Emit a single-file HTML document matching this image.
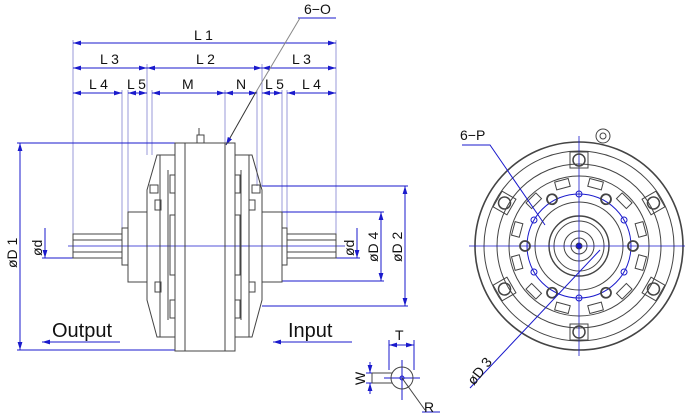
<!DOCTYPE html>
<html><head><meta charset="utf-8"><style>
html,body{margin:0;padding:0;background:#fff;width:685px;height:415px;overflow:hidden}
svg{display:block}
text{font-family:"Liberation Sans",sans-serif}
</style></head><body>
<svg width="685" height="415" viewBox="0 0 685 415" xmlns="http://www.w3.org/2000/svg">
<defs>
<marker id="a" viewBox="0 0 10 6" refX="10" refY="3" markerWidth="8" markerHeight="5" orient="auto-start-reverse"><path d="M0,0L10,3L0,6z" fill="#1a1acc"/></marker>
</defs>
<g stroke="#1a1acc" stroke-width="1" fill="none">
<path d="M73,40V246M336,40V246M147,64V155M262,64V186M122,90V228M128,90V212M152,90V155M225,90V145M257,90V186M282,90V212M287,90V228" stroke="#9a9ad8"/>
<line x1="73" y1="43" x2="336" y2="43" marker-start="url(#a)" marker-end="url(#a)"/>
<line x1="73" y1="68" x2="147" y2="68" marker-start="url(#a)" marker-end="url(#a)"/>
<line x1="147" y1="68" x2="262" y2="68" marker-start="url(#a)" marker-end="url(#a)"/>
<line x1="262" y1="68" x2="336" y2="68" marker-start="url(#a)" marker-end="url(#a)"/>
<line x1="73" y1="93" x2="122" y2="93" marker-start="url(#a)" marker-end="url(#a)"/>
<line x1="128" y1="93" x2="147" y2="93" marker-start="url(#a)" marker-end="url(#a)"/>
<line x1="152" y1="93" x2="225" y2="93" marker-start="url(#a)" marker-end="url(#a)"/>
<line x1="225" y1="93" x2="257" y2="93" marker-start="url(#a)" marker-end="url(#a)"/>
<line x1="262" y1="93" x2="282" y2="93" marker-start="url(#a)" marker-end="url(#a)"/>
<line x1="287" y1="93" x2="336" y2="93" marker-start="url(#a)" marker-end="url(#a)"/>
<path d="M17,143H175M17,350H175"/>
<line x1="20" y1="143" x2="20" y2="350" marker-start="url(#a)" marker-end="url(#a)"/>
<path d="M42,258H73"/>
<line x1="45" y1="228" x2="45" y2="258" marker-end="url(#a)"/>
<path d="M262,186H408M262,306H408M282,212H384M282,281H384M336,258H360"/>
<line x1="405" y1="186" x2="405" y2="306" marker-start="url(#a)" marker-end="url(#a)"/>
<line x1="381" y1="212" x2="381" y2="281" marker-start="url(#a)" marker-end="url(#a)"/>
<line x1="357" y1="228" x2="357" y2="258" marker-end="url(#a)"/>
<path d="M68,246H345" stroke-width="0.7"/>
<path d="M298,18H336"/>
<line x1="256" y1="92" x2="226" y2="145" stroke="#333" marker-end="url(#a)"/>
<path d="M300,18L256,92" stroke="#888"/>
<line x1="120" y1="342" x2="42" y2="342" marker-end="url(#a)"/>
<line x1="352" y1="342" x2="273" y2="342" marker-end="url(#a)"/>
<path d="M389,340V370M414,340V370M366,373H390M366,383H390M402,360V400"/>
<line x1="389" y1="345" x2="414" y2="345" marker-start="url(#a)" marker-end="url(#a)"/>
<line x1="370" y1="362" x2="370" y2="373" marker-end="url(#a)"/>
<line x1="370" y1="394" x2="370" y2="383" marker-end="url(#a)"/>
<path d="M384,378H420M422,412H440"/>
</g>
<g stroke="#444" stroke-width="1" fill="none">
<rect x="175" y="143" width="60" height="208"/>
<path d="M185,143V351M225,143V351"/>
<path d="M175,155H157L147,190V300L157,337H175"/>
<path d="M160,155V337M168,170V320"/>
<path d="M235,155H252L262,190V300L252,337H235"/>
<path d="M249,155V337M241,170V320"/>
<rect x="128" y="212" width="19" height="70"/>
<rect x="122" y="228" width="6" height="37"/>
<rect x="73" y="234" width="49" height="24"/>
<path d="M73,240H122M73,252H122"/>
<rect x="262" y="212" width="20" height="70"/>
<rect x="282" y="228" width="5" height="37"/>
<rect x="287" y="234" width="49" height="24"/>
<path d="M287,240H336M287,252H336"/>
<rect x="170" y="175" width="5" height="18"/><rect x="170" y="215" width="5" height="60"/><rect x="170" y="300" width="5" height="18"/>
<rect x="235" y="175" width="5" height="18"/><rect x="235" y="215" width="5" height="60"/><rect x="235" y="300" width="5" height="18"/>
<rect x="150" y="185" width="8" height="8"/><rect x="252" y="185" width="8" height="8"/>
<rect x="155" y="200" width="6" height="10"/><rect x="249" y="200" width="6" height="10"/>
<rect x="155" y="282" width="6" height="10"/><rect x="249" y="282" width="6" height="10"/>
<path d="M197,143V135H204V143M199,135V128"/>
<circle cx="402" cy="378" r="11"/>
<path d="M372,373H392M372,383H392M372,373V383"/>
</g>
<circle cx="402" cy="378" r="2" fill="none" stroke="#1a1acc"/>
<path d="M402,378L425,410" stroke="#444"/>
<g transform="translate(579,246)" fill="none" stroke="#444" stroke-width="1">
<circle r="104" stroke-width="1.6"/>
<circle r="95"/>
<circle r="82"/>
<circle r="70"/>
<circle r="52" stroke="#1a1acc"/>
<circle r="44"/>
<circle r="30" stroke-width="1.4"/>
<circle r="25"/>
<circle r="15"/>
<circle r="8"/>
<circle r="3" fill="#1a1acc"/>
<path d="M-110,0H110M0,-110V110" stroke="#1a1acc" stroke-width="0.8"/>
<g id="b">
<rect x="-9" y="-94" width="18" height="16"/>
<circle cy="-86" r="6" stroke-width="1.5"/>
<circle cy="-54" r="5" stroke-width="1.8" transform="rotate(30)"/>
<circle cy="-52" r="3" stroke="#1a1acc"/>
<rect x="-7" y="-68" width="14" height="8" transform="rotate(15)"/>
<rect x="-7" y="-68" width="14" height="8" transform="rotate(-15)"/>
</g>
<use href="#b" transform="rotate(60)"/><use href="#b" transform="rotate(120)"/><use href="#b" transform="rotate(180)"/><use href="#b" transform="rotate(240)"/><use href="#b" transform="rotate(300)"/>
<circle cx="24" cy="-110" r="7"/><circle cx="24" cy="-110" r="3"/>
</g>
<path d="M462,145H490L545,225" stroke="#1a1acc" fill="none"/>
<path d="M470,388L600,250" stroke="#1a1acc" fill="none"/>
<g fill="#111" font-size="14">
<text x="194" y="40">L 1</text>
<text x="100" y="64">L 3</text>
<text x="196" y="64">L 2</text>
<text x="292" y="64">L 3</text>
<text x="89" y="89">L 4</text>
<text x="127" y="89">L 5</text>
<text x="182" y="89">M</text>
<text x="236" y="89">N</text>
<text x="265" y="89">L 5</text>
<text x="302" y="89">L 4</text>
<text x="304" y="14">6−O</text>
<text x="460" y="140">6−P</text>
<text x="395" y="340">T</text>
<text x="424" y="412">R</text>
<text transform="translate(365,385) rotate(-90)">W</text>
<text transform="translate(17,268) rotate(-90)">øD 1</text>
<text transform="translate(42,256) rotate(-90)">ød</text>
<text transform="translate(354,256) rotate(-90)">ød</text>
<text transform="translate(378,262) rotate(-90)">øD 4</text>
<text transform="translate(402,262) rotate(-90)">øD 2</text>
<text transform="translate(474,386) rotate(-52)">øD 3</text>
<text x="52" y="337" font-size="20" font-family="Liberation Mono,monospace">Output</text>
<text x="288" y="337" font-size="20" font-family="Liberation Mono,monospace">Input</text>
</g>
</svg>
</body></html>
